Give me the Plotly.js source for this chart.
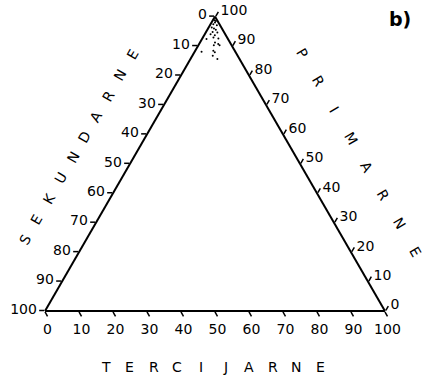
<!DOCTYPE html>
<html>
<head>
<meta charset="utf-8">
<script src="https://cdn.plot.ly/plotly-3.0.1.min.js"></script>
<style>
  html, body { margin: 0; padding: 0; background: #fff; }
  #chart { width: 427px; height: 380px; }
</style>
</head>
<body>
<div id="chart"></div>
<script>
// Sample composition (percent) - primarne / sekundarne / tercijarne
const primarne   = [98.8, 98.5, 97.4, 98.0, 97.1, 96.3, 96.0, 95.5, 94.8, 94.6, 94.0, 93.7, 92.9, 92.6, 92.4, 91.2, 90.7, 90.3, 90.3, 88.1, 88.4, 87.9, 86.7, 85.6];
const sekundarne = [0.7, 0.5, 1.8, 1.0, 0.9, 2.8, 2.3, 2.0, 3.3, 2.0, 4.3, 3.2, 4.0, 2.7, 6.3, 4.4, 3.7, 5.2, 3.5, 9.9, 6.3, 6.1, 7.3, 6.5];
const tercijarne = [0.5, 1.0, 0.8, 1.0, 2.0, 0.9, 1.7, 2.5, 1.9, 3.4, 1.7, 3.1, 3.1, 4.7, 1.3, 4.4, 5.6, 4.5, 6.2, 2.0, 5.3, 6.0, 6.0, 7.9];

// Tick values along each edge; labels read the quantity named on that edge
const tickVals = [0, 10, 20, 30, 40, 50, 60, 70, 80, 90, 100];
const edgeLabels = tickVals.map(v => String(100 - v));

const font = 'DejaVu Sans, sans-serif';
const W = 427, H = 380;

function edgeAxis() {
    return {
        tickmode: 'array',
        tickvals: tickVals,
        ticktext: edgeLabels,
        ticks: 'outside',
        ticklen: 5,
        tickwidth: 1.5,
        tickcolor: '#000',
        tickfont: { family: font, size: 14, color: '#000' },
        showline: true,
        linecolor: '#000',
        linewidth: 2,
        showgrid: false,
        title: { text: '' }
    };
}

const trace = {
    type: 'scatterternary',
    mode: 'markers',
    a: primarne,
    b: sekundarne,
    c: tercijarne,
    marker: { color: '#000', size: 2 },
    hoverinfo: 'a+b+c'
};

// spaced-out letter titles: one annotation per letter, laid along a line
function letters(word, x0, y0, dx, dy, angle) {
    return word.split('').map((ch, i) => ({
        text: ch, xref: 'paper', yref: 'paper',
        x: (x0 + i * dx) / W, y: 1 - (y0 + i * dy) / H,
        xanchor: 'center', yanchor: 'middle',
        showarrow: false, textangle: angle,
        font: { family: font, size: 14, color: '#000' }
    }));
}

const annotations = [].concat(
    letters('SEKUNDARNE', 25, 240, 11.9, -20.6, -60),
    letters('PRIMARNE', 302, 53, 16.2, 28.4, 60),
    letters('TERCIJARNE', 106, 367, 23.8, 0, 0),
    [{
        text: '<b>b)</b>', xref: 'paper', yref: 'paper',
        x: 400 / W, y: 1 - 19 / H, xanchor: 'center', yanchor: 'middle',
        showarrow: false, font: { family: font, size: 19, color: '#000' }
    }]
);

const layout = {
    width: W,
    height: H,
    margin: { l: 0, r: 0, t: 0, b: 0 },
    paper_bgcolor: '#fff',
    showlegend: false,
    font: { family: font, color: '#000' },
    ternary: {
        sum: 100,
        domain: { x: [0.1054, 0.9016], y: [0.1816, 0.9563] },
        bgcolor: '#fff',
        aaxis: edgeAxis(),
        baxis: edgeAxis(),
        caxis: edgeAxis()
    },
    annotations: annotations
};

Plotly.newPlot('chart', [trace], layout, { displayModeBar: false, staticPlot: true });
</script>
</body>
</html>
